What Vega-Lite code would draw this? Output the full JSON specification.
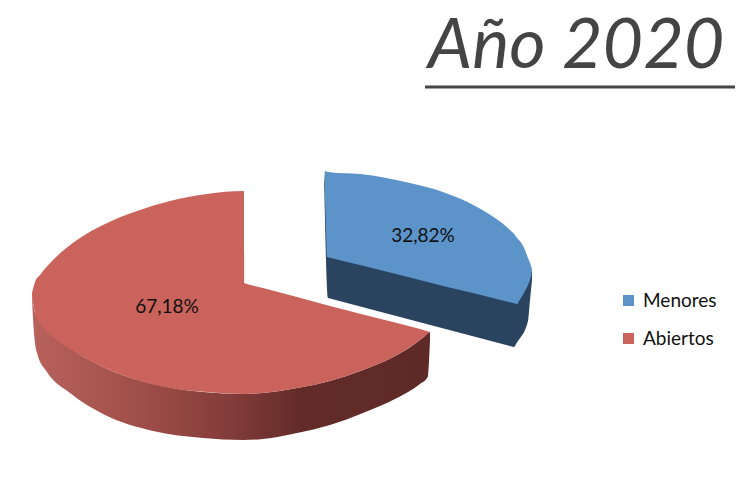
{
"$schema":"https://vega.github.io/schema/vega-lite/v6.json",
"width":750,"height":500,"padding":0,"autosize":{"type":"fit","contains":"padding"},
"background":"white",
"config":{"view":{"stroke":null}},
"encoding":{
 "x":{"field":"x","type":"quantitative","axis":null,"scale":{"domain":[0,750],"nice":false,"zero":false}},
 "y":{"field":"y","type":"quantitative","axis":null,"stack":null,"scale":{"domain":[500,0],"nice":false,"zero":false}}
},
"datasets":{
 "paredRoja":[
  {"x":32,"y":293,"y2":297},{"x":33,"y":302,"y2":318},{"x":35,"y":313,"y2":343},{"x":37,"y":317,"y2":353},{"x":47,"y":330,"y2":372},{"x":70,"y":348,"y2":393},{"x":103,"y":367,"y2":414},{"x":153,"y":384,"y2":431},{"x":203,"y":392,"y2":438},{"x":243,"y":394,"y2":440},{"x":263,"y":393,"y2":439},{"x":297,"y":388,"y2":433},{"x":330,"y":381,"y2":425},{"x":363,"y":370,"y2":413},{"x":397,"y":355,"y2":398},{"x":420,"y":340,"y2":384},{"x":427,"y":334,"y2":378},{"x":428,"y":333,"y2":376},{"x":430,"y":332,"y2":340}
 ],
 "paredAzul":[
  {"x":324,"y":171,"y2":173},{"x":326,"y":200,"y2":260},{"x":328,"y":250,"y2":298},{"x":330,"y":250,"y2":298.5},{"x":400,"y":270,"y2":317},{"x":511,"y":290,"y2":346.2},{"x":514,"y":290,"y2":347},{"x":516,"y":285,"y2":344},{"x":518,"y":280,"y2":341},{"x":528,"y":262,"y2":321},{"x":530,"y":266,"y2":300},{"x":532,"y":270,"y2":280}
 ],
 "caras":[
  {"serie":"Abiertos","x":32,"y":293,"y2":296},{"serie":"Abiertos","x":35,"y":282,"y2":313},{"serie":"Abiertos","x":40,"y":275,"y2":323},{"serie":"Abiertos","x":53,"y":260,"y2":337},{"serie":"Abiertos","x":77,"y":240,"y2":353},{"serie":"Abiertos","x":103,"y":225,"y2":367},{"serie":"Abiertos","x":137,"y":211,"y2":380},{"serie":"Abiertos","x":170,"y":201,"y2":388},{"serie":"Abiertos","x":207,"y":194,"y2":392},{"serie":"Abiertos","x":244,"y":191,"y2":394},{"serie":"Abiertos","x":244.2,"y":283,"y2":394},{"serie":"Abiertos","x":245.5,"y":283.5,"y2":394},{"serie":"Abiertos","x":247,"y":283.9,"y2":394},{"serie":"Abiertos","x":263,"y":288,"y2":393},{"serie":"Abiertos","x":297,"y":297,"y2":388},{"serie":"Abiertos","x":330,"y":306,"y2":381},{"serie":"Abiertos","x":363,"y":314.5,"y2":370},{"serie":"Abiertos","x":397,"y":323,"y2":355},{"serie":"Abiertos","x":420,"y":329,"y2":340},{"serie":"Abiertos","x":430,"y":332,"y2":332},
  {"serie":"Menores","x":325,"y":171,"y2":200},{"serie":"Menores","x":326,"y":171,"y2":230},{"serie":"Menores","x":327,"y":172,"y2":257},{"serie":"Menores","x":328.5,"y":172,"y2":257.4},{"serie":"Menores","x":330,"y":172.2,"y2":257.8},{"serie":"Menores","x":360,"y":174,"y2":265},{"serie":"Menores","x":410,"y":183,"y2":277.5},{"serie":"Menores","x":443,"y":192,"y2":286},{"serie":"Menores","x":477,"y":207,"y2":294},{"serie":"Menores","x":510,"y":230,"y2":302.3},{"serie":"Menores","x":515,"y":235,"y2":303.5},{"serie":"Menores","x":517,"y":238,"y2":304},{"serie":"Menores","x":519,"y":240,"y2":301},{"serie":"Menores","x":525,"y":250,"y2":291},{"serie":"Menores","x":528,"y":258,"y2":285},{"serie":"Menores","x":531,"y":266,"y2":276},{"serie":"Menores","x":532,"y":270,"y2":271}
 ],
 "etiquetas":[{"x":423,"y":236,"texto":"32,82%"},{"x":167,"y":307,"texto":"67,18%"}],
 "titulo":[{"x":428,"y":68,"texto":"Año 2020"}],
 "raya":[{"x":425,"x2":735,"y":87}]
},
"layer":[
 {"data":{"name":"paredRoja"},
  "mark":{"type":"area","interpolate":"monotone","color":{"gradient":"linear","x1":0,"x2":1,"y1":0,"y2":0,"stops":[{"offset":0,"color":"#b8625c"},{"offset":0.27,"color":"#a04e49"},{"offset":0.5,"color":"#823c39"},{"offset":0.68,"color":"#622b28"},{"offset":1,"color":"#5e2a27"}]}},
  "encoding":{"y2":{"field":"y2"}}},
 {"data":{"name":"paredAzul"},
  "mark":{"type":"area","interpolate":"monotone","color":"#2a4460"},
  "encoding":{"y2":{"field":"y2"}}},
 {"data":{"name":"caras"},
  "mark":{"type":"area","interpolate":"monotone"},
  "encoding":{"y2":{"field":"y2"},
   "color":{"field":"serie","type":"nominal","scale":{"domain":["Menores","Abiertos"],"range":["#5c93c9","#c9635b"]},
    "legend":{"title":null,"orient":"none","legendX":619,"legendY":291,"symbolType":"square","symbolSize":121,"symbolStrokeWidth":0,"labelFont":"Lato","labelFontSize":19,"labelColor":"#111","labelOffset":5,"rowPadding":18,"labelLimit":200}}}},
 {"data":{"name":"etiquetas"},
  "mark":{"type":"text","font":"Lato","fontSize":19,"color":"#111","align":"center","baseline":"middle"},
  "encoding":{"text":{"field":"texto"}}},
 {"data":{"name":"titulo"},
  "mark":{"type":"text","font":"Lato","fontSize":70,"fontStyle":"italic","color":"#444","align":"left","baseline":"alphabetic"},
  "encoding":{"text":{"field":"texto"}}},
 {"data":{"name":"raya"},
  "mark":{"type":"rule","color":"#444","strokeWidth":3},
  "encoding":{"x2":{"field":"x2"}}}
]
}
